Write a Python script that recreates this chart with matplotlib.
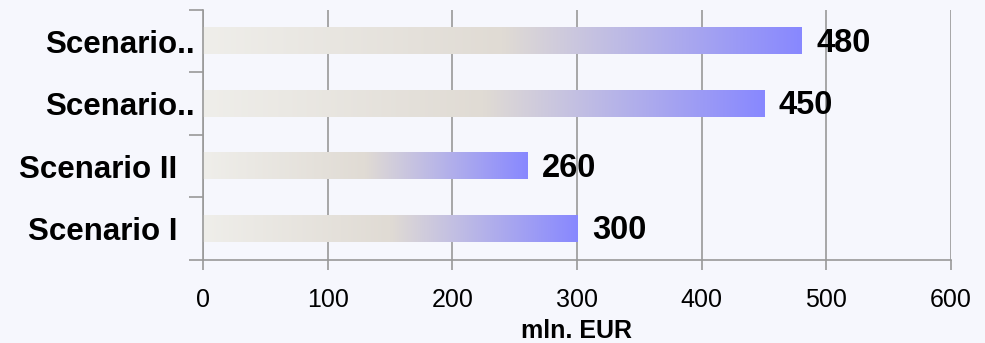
import matplotlib.pyplot as plt
import numpy as np
from matplotlib.colors import LinearSegmentedColormap

# scenario totals, bottom to top
scenarios = ["Scenario I", "Scenario II", "Scenario..", "Scenario.."]
values = [300, 260, 450, 480]
x_ticks = [0, 100, 200, 300, 400, 500, 600]

bg = "#F6F7FD"
grid_col = "#999999"
plt.rcParams['font.family'] = ['Liberation Sans', 'DejaVu Sans']

fade = LinearSegmentedColormap.from_list(
    "fade", [(0.0, "#EFEEEA"), (0.5, "#E0DBD4"), (1.0, "#8888FF")])

fig = plt.figure(figsize=(9.85, 3.43), dpi=100, facecolor=bg)
ax = fig.add_axes([0.206, 0.242, 0.7594, 0.729])
ax.set_facecolor(bg)

bar_h = 0.42
ramp = np.linspace(0, 1, 256).reshape(1, -1)
for i, v in enumerate(values):
    ax.imshow(ramp, cmap=fade, aspect='auto', interpolation='bilinear',
              extent=[0, v, i - bar_h / 2, i + bar_h / 2], zorder=2)
    ax.text(v + 12, i - 0.03, str(v), ha='left', va='center',
            fontsize=23.5, fontweight='bold', color='black', zorder=3)

ax.set_xlim(0, 600)
ax.set_ylim(-0.5, len(values) - 0.5)

ax.set_xticks(x_ticks)
ax.set_xticklabels([str(t) for t in x_ticks], fontsize=18)
ax.tick_params(axis='x', length=7, width=1.2, color=grid_col, pad=13)

# full names sit a little further from the axis than the cut ones
ax.set_yticks(range(len(scenarios)))
ax.set_yticklabels([s if s.endswith("..") else s + "  " for s in scenarios],
                   fontsize=22.5, fontweight='bold')
ax.set_yticks(np.arange(-0.5, len(values), 1), minor=True)
ax.tick_params(axis='y', which='major', length=0, pad=6)
ax.tick_params(axis='y', which='minor', length=10, width=1.2, color=grid_col)

ax.grid(axis='x', color=grid_col, linewidth=1.2, zorder=1)
ax.set_axisbelow(True)
for side in ['top', 'right']:
    ax.spines[side].set_visible(False)
for side in ['left', 'bottom']:
    ax.spines[side].set_color(grid_col)
    ax.spines[side].set_linewidth(1.2)

ax.set_xlabel("mln. EUR", fontsize=18, fontweight='bold', labelpad=5)

fig.savefig("out.png", dpi=100, facecolor=bg)
